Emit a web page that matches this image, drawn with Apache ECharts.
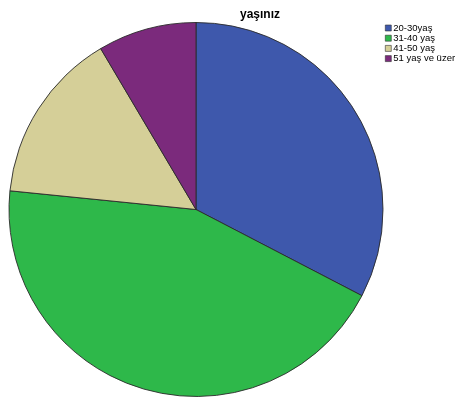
<!DOCTYPE html>
<html>
<head>
<meta charset="utf-8">
<script src="https://cdn.jsdelivr.net/npm/echarts@6/dist/echarts.min.js"></script>
<style>
  html, body { margin: 0; padding: 0; background: #fff; }
  #chart { width: 456px; height: 397px; }
</style>
</head>
<body>
<div id="chart"></div>
<script>
// Age groups and respondent counts
const categories = ['20-30yaş', '31-40 yaş', '41-50 yaş', '51 yaş ve üzer'];
const counts = [46, 62, 21, 12];
const colors = ['#3E58AC', '#2EB84A', '#D5CF98', '#7B2A7C'];

const chart = echarts.init(document.getElementById('chart'), null, { renderer: 'canvas' });

chart.setOption({
  animation: false,
  backgroundColor: '#ffffff',
  title: {
    text: 'yaşınız',
    left: 255,
    textAlign: 'center',
    top: 4,
    textStyle: { fontFamily: 'Liberation Sans, Arial, sans-serif', fontSize: 12, fontWeight: 'bold', color: '#000' }
  },
  legend: {
    orient: 'vertical',
    left: 385,
    top: 23,
    padding: 0,
    icon: 'rect',
    itemWidth: 6,
    itemHeight: 6,
    itemGap: 0.2,
    selectedMode: false,
    data: categories,
    textStyle: {
      fontFamily: 'Liberation Sans, Arial, sans-serif',
      fontSize: 9.5,
      lineHeight: 8,
      color: '#000',
      padding: [0, 0, 0, -3]
    },
    itemStyle: { borderColor: '#333', borderWidth: 0.6 }
  },
  series: [{
    type: 'pie',
    center: [196, 209.5],
    radius: 187,
    startAngle: 90,
    clockwise: true,
    label: { show: false },
    labelLine: { show: false },
    emphasis: { disabled: true },
    itemStyle: { borderColor: '#2a2a2a', borderWidth: 0.9 },
    data: categories.map((name, i) => ({
      name,
      value: counts[i],
      itemStyle: { color: colors[i] }
    }))
  }]
});
</script>
</body>
</html>
